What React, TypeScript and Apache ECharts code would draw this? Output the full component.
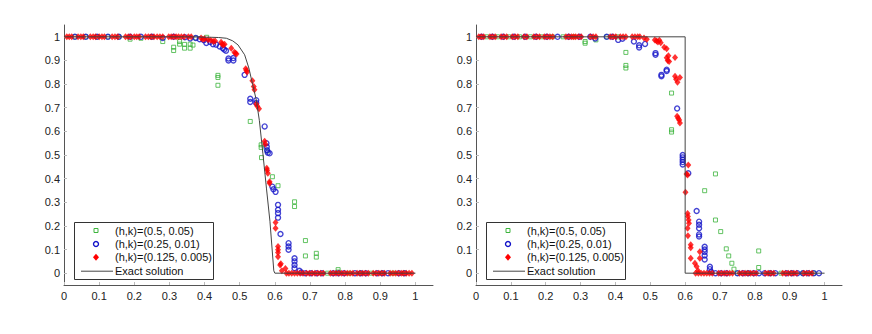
import React, { useEffect, useRef } from "react";
import * as echarts from "echarts";

const seriesNames = ["(h,k)=(0.5, 0.05)", "(h,k)=(0.25, 0.01)", "(h,k)=(0.125, 0.005)", "Exact solution"];
const tickValues = [0, 0.1, 0.2, 0.3, 0.4, 0.5, 0.6, 0.7, 0.8, 0.9, 1];

// ---- left panel ----
const leftGreen: number[][] = [
  [0.031, 1], [0.062, 1], [0.094, 1], [0.125, 1], [0.156, 1], [0.188, 0.99], [0.219, 0.994], [0.25, 1],
  [0.281, 0.98], [0.312, 0.956], [0.312, 0.942], [0.329, 0.98], [0.329, 0.969], [0.343, 0.968], [0.343, 0.952],
  [0.359, 0.969], [0.359, 0.952], [0.367, 0.965], [0.375, 0.995], [0.406, 0.998],
  [0.438, 0.837], [0.438, 0.828], [0.438, 0.795], [0.53, 0.642], [0.561, 0.543], [0.561, 0.532], [0.562, 0.489],
  [0.578, 0.517], [0.593, 0.408], [0.609, 0.37], [0.656, 0.302], [0.656, 0.282], [0.687, 0.138], [0.687, 0.073],
  [0.718, 0.084], [0.718, 0.068], [0.75, 0], [0.78, 0.015], [0.78, 0.005], [0.812, 0], [0.844, 0], [0.875, 0],
  [0.906, 0], [0.937, 0], [0.969, 0],
];
const leftBlue: number[][] = [
  [0.031, 1], [0.062, 1], [0.094, 1], [0.125, 1], [0.156, 1], [0.188, 1], [0.219, 1], [0.25, 1], [0.281, 0.995],
  [0.312, 1], [0.344, 0.998], [0.359, 0.993], [0.375, 0.995], [0.386, 0.99], [0.398, 0.986], [0.405, 0.974],
  [0.416, 0.978], [0.424, 0.969], [0.433, 0.967], [0.443, 0.959], [0.452, 0.952], [0.456, 0.946], [0.461, 0.941],
  [0.468, 0.908], [0.468, 0.9], [0.482, 0.91], [0.482, 0.9], [0.514, 0.839], [0.53, 0.738], [0.53, 0.724],
  [0.547, 0.732], [0.547, 0.72], [0.571, 0.621], [0.576, 0.55], [0.577, 0.535], [0.578, 0.52], [0.58, 0.51],
  [0.585, 0.507], [0.593, 0.366], [0.596, 0.355], [0.602, 0.344], [0.609, 0.289], [0.609, 0.268], [0.609, 0.254],
  [0.609, 0.235], [0.616, 0.166], [0.639, 0.127], [0.639, 0.113], [0.639, 0.099], [0.656, 0.063], [0.656, 0.05],
  [0.656, 0.035], [0.656, 0.021], [0.67, 0.01], [0.675, 0.003], [0.687, 0], [0.703, 0], [0.719, 0], [0.734, 0],
  [0.766, 0], [0.781, 0], [0.797, 0], [0.828, 0], [0.844, 0], [0.859, 0], [0.891, 0], [0.906, 0], [0.922, 0],
  [0.953, 0], [0.969, 0],
];
const leftRed: number[][] = [
  [0.008, 1], [0.015, 1], [0.022, 1], [0.04, 1], [0.048, 1], [0.055, 1], [0.075, 1], [0.083, 1], [0.09, 1],
  [0.1, 1], [0.108, 1], [0.115, 1], [0.137, 1], [0.145, 1], [0.153, 1], [0.175, 1], [0.183, 1], [0.19, 1],
  [0.2, 1], [0.207, 1], [0.214, 1], [0.232, 1], [0.24, 1], [0.248, 1], [0.256, 1], [0.265, 1], [0.273, 1],
  [0.281, 1], [0.298, 1], [0.305, 1], [0.312, 1], [0.319, 1], [0.326, 1], [0.334, 1], [0.342, 1], [0.354, 1],
  [0.362, 1], [0.39, 0.995], [0.395, 0.99], [0.4, 0.992], [0.41, 0.988], [0.418, 0.985], [0.425, 0.98],
  [0.43, 0.982], [0.447, 0.977], [0.45, 0.97], [0.453, 0.965], [0.457, 0.969], [0.476, 0.952], [0.485, 0.935],
  [0.488, 0.93], [0.491, 0.927], [0.517, 0.865], [0.519, 0.858], [0.521, 0.851], [0.536, 0.814], [0.54, 0.79],
  [0.542, 0.776], [0.547, 0.716], [0.55, 0.706], [0.555, 0.696], [0.571, 0.558], [0.573, 0.546], [0.577, 0.444],
  [0.578, 0.435], [0.58, 0.423], [0.585, 0.387], [0.585, 0.38], [0.602, 0.214], [0.602, 0.19], [0.609, 0.113],
  [0.609, 0.099], [0.609, 0.087], [0.609, 0.07], [0.615, 0.035], [0.617, 0.04], [0.62, 0.01], [0.63, 0.02],
  [0.633, 0], [0.64, 0], [0.648, 0], [0.656, 0], [0.664, 0], [0.672, 0], [0.68, 0], [0.69, 0], [0.698, 0],
  [0.706, 0], [0.714, 0], [0.722, 0], [0.73, 0], [0.738, 0], [0.758, 0], [0.766, 0], [0.774, 0], [0.782, 0],
  [0.79, 0], [0.798, 0], [0.806, 0], [0.814, 0], [0.822, 0], [0.834, 0], [0.842, 0], [0.85, 0], [0.858, 0],
  [0.866, 0], [0.88, 0], [0.888, 0], [0.896, 0], [0.904, 0], [0.912, 0], [0.928, 0], [0.936, 0], [0.944, 0],
  [0.952, 0], [0.96, 0], [0.966, 0], [0.974, 0], [0.982, 0], [0.99, 0],
];
const leftExact: number[][] = [
  [0, 1], [0.35, 1], [0.42, 0.998], [0.44, 0.997], [0.462, 0.994], [0.48, 0.983], [0.495, 0.966], [0.514, 0.924],
  [0.526, 0.868], [0.537, 0.797], [0.547, 0.734], [0.556, 0.645], [0.566, 0.505], [0.576, 0.36], [0.586, 0.22],
  [0.597, 0.01], [0.6, 0], [1, 0],
];

// ---- right panel ----
const rightGreen: number[][] = [
  [0.031, 1], [0.062, 1], [0.094, 1], [0.125, 1], [0.156, 1], [0.188, 1], [0.219, 1], [0.25, 1], [0.281, 1],
  [0.313, 0.98], [0.313, 0.973], [0.344, 0.987], [0.375, 1], [0.406, 1], [0.43, 0.934], [0.43, 0.879],
  [0.43, 0.868], [0.561, 0.762], [0.561, 0.607], [0.561, 0.597], [0.656, 0.349], [0.687, 0.42], [0.687, 0.225],
  [0.702, 0.176], [0.718, 0.103], [0.725, 0.073], [0.734, 0.042], [0.74, 0.017], [0.75, 0], [0.78, 0],
  [0.811, 0.094], [0.811, 0.024], [0.844, 0], [0.875, 0], [0.906, 0], [0.938, 0], [0.969, 0],
];
const rightBlue: number[][] = [
  [0.016, 1], [0.047, 1], [0.078, 1], [0.109, 1], [0.141, 1], [0.172, 1], [0.203, 1], [0.234, 1], [0.266, 1],
  [0.297, 1], [0.328, 1], [0.342, 0.993], [0.375, 1], [0.391, 1], [0.408, 0.987], [0.42, 0.992], [0.453, 0.98],
  [0.468, 0.964], [0.468, 0.955], [0.485, 0.97], [0.515, 0.931], [0.515, 0.924], [0.532, 0.839], [0.532, 0.833],
  [0.547, 0.861], [0.547, 0.855], [0.577, 0.697], [0.593, 0.5], [0.593, 0.49], [0.593, 0.48], [0.593, 0.47],
  [0.593, 0.46], [0.609, 0.423], [0.633, 0.263], [0.64, 0.218], [0.64, 0.205], [0.64, 0.19], [0.64, 0.164],
  [0.64, 0.155], [0.656, 0.112], [0.656, 0.1], [0.656, 0.09], [0.656, 0.075], [0.656, 0.058], [0.671, 0.027],
  [0.671, 0.017], [0.675, 0.005], [0.687, 0], [0.703, 0], [0.719, 0], [0.75, 0], [0.766, 0], [0.781, 0],
  [0.797, 0], [0.812, 0], [0.828, 0], [0.844, 0], [0.859, 0], [0.891, 0], [0.906, 0], [0.922, 0], [0.938, 0],
  [0.953, 0], [0.969, 0], [0.984, 0],
];
const rightRed: number[][] = [
  [0.008, 1], [0.015, 1], [0.022, 1], [0.04, 1], [0.047, 1], [0.055, 1], [0.072, 1], [0.08, 1], [0.088, 1],
  [0.104, 1], [0.112, 1], [0.12, 1], [0.138, 1], [0.146, 1], [0.166, 1], [0.174, 1], [0.182, 1], [0.196, 1],
  [0.204, 1], [0.212, 1], [0.22, 1], [0.258, 1], [0.266, 1], [0.274, 1], [0.28, 1], [0.286, 1], [0.294, 1],
  [0.302, 1], [0.328, 1], [0.336, 1], [0.344, 1], [0.385, 1], [0.393, 1], [0.401, 1], [0.414, 1], [0.422, 1],
  [0.43, 1], [0.448, 1], [0.456, 1], [0.464, 1], [0.47, 1], [0.482, 0.995], [0.49, 0.99],
  [0.513, 0.987], [0.518, 0.982], [0.522, 0.978], [0.526, 0.985], [0.53, 0.975], [0.54, 0.956], [0.547, 0.949],
  [0.547, 0.911], [0.55, 0.9], [0.552, 0.92], [0.554, 0.896], [0.571, 0.913], [0.571, 0.833], [0.574, 0.82],
  [0.578, 0.808], [0.585, 0.828], [0.577, 0.664], [0.58, 0.655], [0.583, 0.648], [0.585, 0.635], [0.601, 0.342],
  [0.604, 0.42], [0.607, 0.415], [0.609, 0.458], [0.607, 0.253], [0.608, 0.24], [0.61, 0.225], [0.611, 0.211],
  [0.607, 0.19], [0.608, 0.158], [0.616, 0.12], [0.616, 0.108], [0.616, 0.063], [0.628, 0.042], [0.633, 0.028],
  [0.642, 0.091], [0.642, 0.063], [0.637, 0.01], [0.63, 0], [0.638, 0], [0.646, 0], [0.654, 0], [0.662, 0],
  [0.67, 0], [0.678, 0], [0.696, 0], [0.704, 0], [0.712, 0], [0.72, 0], [0.728, 0], [0.736, 0], [0.756, 0],
  [0.764, 0], [0.772, 0], [0.78, 0], [0.788, 0], [0.796, 0], [0.804, 0], [0.83, 0], [0.838, 0], [0.846, 0],
  [0.854, 0], [0.88, 0], [0.888, 0], [0.896, 0], [0.904, 0], [0.912, 0], [0.92, 0], [0.94, 0], [0.948, 0],
  [0.956, 0], [0.964, 0],
];
const rightExact: number[][] = [[0, 1], [0.6, 1], [0.6, 0], [1, 0]];

const FONT = "'Liberation Sans', Arial, Helvetica, sans-serif";
const GREEN = "#3cb43c";
const BLUE = "#1414c8";
const RED = "#ff0000";
const LINE = "#444444";

function fmt(v: number) {
  return String(Math.round(v * 10) / 10);
}

function makeXAxis(gridIndex: number) {
  return {
    type: "value",
    gridIndex,
    min: 0,
    max: 1.05,
    splitLine: { show: false },
    axisLine: { onZero: false, lineStyle: { color: "#555", width: 1 } },
    axisTick: { show: true, inside: true, length: 3, customValues: tickValues, lineStyle: { color: "#bbb" } },
    axisLabel: { customValues: tickValues, formatter: fmt, fontSize: 11, fontFamily: FONT, color: "#222", margin: 5 },
  };
}
function makeYAxis(gridIndex: number) {
  return {
    type: "value",
    gridIndex,
    min: -0.05,
    max: 1.05,
    splitLine: { show: false },
    axisLine: { onZero: false, lineStyle: { color: "#555", width: 1 } },
    axisTick: { show: true, inside: true, length: 3, customValues: tickValues, lineStyle: { color: "#bbb" } },
    axisLabel: { customValues: tickValues, formatter: fmt, fontSize: 11, fontFamily: FONT, color: "#222", margin: 4 },
  };
}

function panelSeries(idx: number, green: number[][], blue: number[][], red: number[][], exact: number[][]) {
  return [
    {
      type: "scatter", name: seriesNames[0], xAxisIndex: idx, yAxisIndex: idx, data: green,
      symbol: "rect", symbolSize: 4,
      itemStyle: { color: "transparent", borderColor: GREEN, borderWidth: 1 },
    },
    {
      type: "scatter", name: seriesNames[1], xAxisIndex: idx, yAxisIndex: idx, data: blue,
      symbol: "circle", symbolSize: 5,
      itemStyle: { color: "transparent", borderColor: BLUE, borderWidth: 1.4 },
    },
    {
      type: "scatter", name: seriesNames[2], xAxisIndex: idx, yAxisIndex: idx, data: red,
      symbol: "diamond", symbolSize: [6, 7],
      itemStyle: { color: RED },
    },
    {
      type: "line", name: seriesNames[3], xAxisIndex: idx, yAxisIndex: idx, data: exact,
      symbol: "none", showSymbol: false,
      lineStyle: { color: LINE, width: 1 },
      itemStyle: { color: LINE },
    },
  ];
}

// Legend box drawn with graphic elements (box left/top given, rows at fixed pitch)
function legendGraphic(bx: number, by: number) {
  const w = 139;
  const h = 57;
  const mx = bx + 22;
  const rows = [by + 8.5, by + 22, by + 35.2, by + 48.7];
  const tx = bx + 41;
  const children: any[] = [
    {
      type: "rect",
      shape: { x: bx + 0.5, y: by + 0.5, width: w, height: h },
      style: { fill: "#fff", stroke: "#333", lineWidth: 1 },
    },
    {
      type: "rect",
      shape: { x: mx - 2, y: rows[0] - 2, width: 4, height: 4 },
      style: { fill: "none", stroke: GREEN, lineWidth: 1 },
    },
    {
      type: "circle",
      shape: { cx: mx, cy: rows[1], r: 2.5 },
      style: { fill: "none", stroke: BLUE, lineWidth: 1.4 },
    },
    {
      type: "polygon",
      shape: { points: [[mx, rows[2] - 3.5], [mx + 3, rows[2]], [mx, rows[2] + 3.5], [mx - 3, rows[2]]] },
      style: { fill: RED },
    },
    {
      type: "line",
      shape: { x1: bx + 7, y1: rows[3] + 0.5, x2: bx + 39, y2: rows[3] + 0.5 },
      style: { stroke: LINE, lineWidth: 1 },
    },
  ];
  seriesNames.forEach((name, i) => {
    children.push({
      type: "text",
      x: tx,
      y: rows[i],
      style: { text: name, fontSize: 11, fontFamily: FONT, fill: "#111", verticalAlign: "middle", align: "left" },
    });
  });
  return { type: "group", z: 100, children };
}

export default function App() {
  const ref = useRef<HTMLDivElement>(null);
  useEffect(() => {
    if (!ref.current) return;
    const chart = echarts.init(ref.current, undefined, { renderer: "svg" });
    chart.setOption({
      animation: false,
      backgroundColor: "#fff",
      grid: [
        { left: 64, top: 25, width: 369, height: 260 },
        { left: 476, top: 25, width: 366, height: 260 },
      ],
      xAxis: [makeXAxis(0), makeXAxis(1)],
      yAxis: [makeYAxis(0), makeYAxis(1)],
      graphic: [legendGraphic(74, 222), legendGraphic(486, 222)],
      series: [
        ...panelSeries(0, leftGreen, leftBlue, leftRed, leftExact),
        ...panelSeries(1, rightGreen, rightBlue, rightRed, rightExact),
      ],
    });
    return () => chart.dispose();
  }, []);
  return (
    <div
      ref={ref}
      style={{ position: "fixed", left: 0, top: 0, width: 872, height: 334, background: "#fff" }}
    />
  );
}
